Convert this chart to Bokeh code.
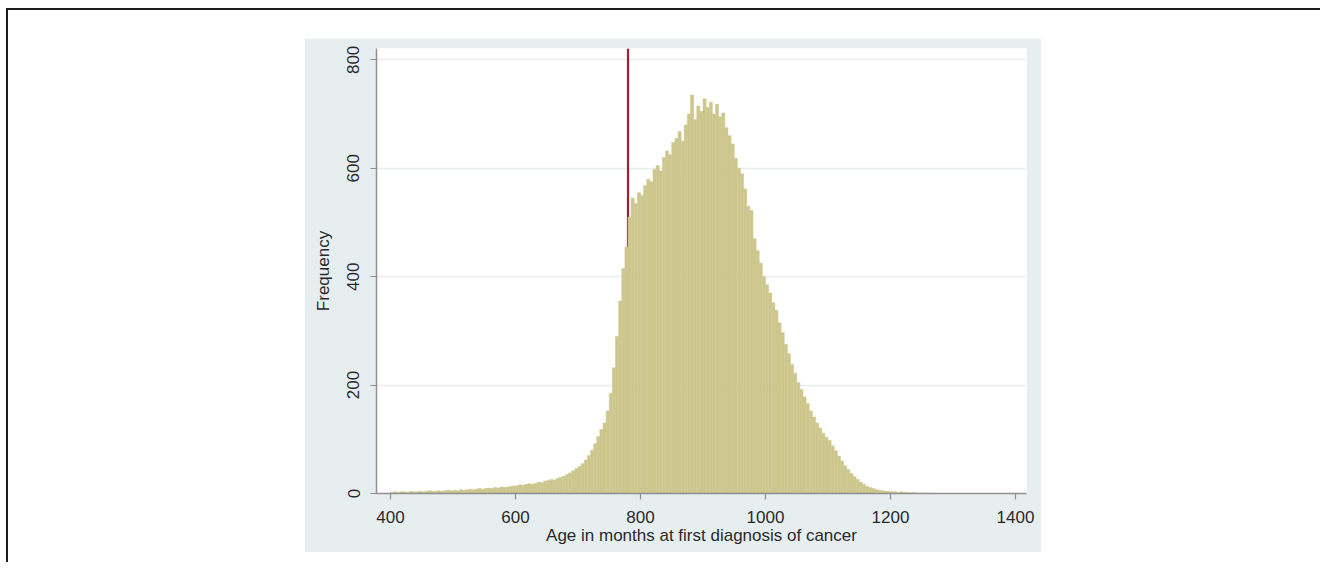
from bokeh.plotting import figure
from bokeh.models import Range1d, FixedTicker, ColumnDataSource, Spacer
from bokeh.layouts import column, row
from bokeh.embed import file_html
from bokeh.resources import INLINE

# ---- data ----
bin_start = 400          # months
bin_width = 5            # months
counts = [
    # 400-495
    2, 3, 2, 3, 3, 2, 4, 3, 3, 4, 3, 4, 5, 4, 4, 5, 4, 5, 6, 5,
    # 500-595
    6, 5, 7, 6, 7, 8, 7, 8, 9, 8, 9, 10, 9, 11, 10, 12, 11, 12, 13, 14,
    # 600-645
    14, 16, 15, 17, 18, 17, 19, 21, 20, 23,
    # 650-695
    24, 26, 25, 28, 30, 32, 35, 38, 42, 46,
    # 700-735
    50, 55, 62, 70, 80, 92, 105, 118,
    # 740-775
    130, 152, 185, 232, 290, 355, 415, 455,
    # 780-855
    510, 545, 535, 555, 550, 568, 580, 575, 598, 605, 595, 620, 632, 625, 648, 655,
    # 860-935
    668, 650, 680, 700, 735, 690, 715, 705, 728, 712, 722, 700, 718, 695, 702, 675,
    # 940-995
    660, 645, 618, 600, 590, 562, 530, 522, 470, 448, 425, 400,
    # 1000-1095
    385, 370, 352, 338, 315, 297, 275, 258, 238, 222, 205, 192, 178, 166, 152, 141, 130, 121, 111, 104,
    # 1100-1195
    98, 88, 79, 69, 60, 51, 44, 37, 31, 26, 21, 17, 13, 11, 9, 7, 6, 5, 4, 4,
    # 1200-1265
    3, 3, 2, 3, 2, 2, 1, 2, 1, 1, 1, 1, 0, 1,
]
cutoff_month = 780       # red reference line (65 years)
x_ticks = [400, 600, 800, 1000, 1200, 1400]
y_ticks = [0, 200, 400, 600, 800]
x_title = "Age in months at first diagnosis of cancer"
y_title = "Frequency"

left = [bin_start + i * bin_width for i in range(len(counts))]
right = [l + bin_width for l in left]
src = ColumnDataSource(dict(left=left, right=right, top=counts, bottom=[0] * len(counts)))

PANEL = "#e7eef0"
BAR = "#cdc78e"
FONT = "Liberation Sans"

p = figure(width=737, height=514, output_backend="svg", toolbar_location=None,
           x_range=Range1d(377.6, 1417.6), y_range=Range1d(0, 821),
           min_border_left=72, min_border_right=15, min_border_top=10, min_border_bottom=59,
           background_fill_color="white", border_fill_color=PANEL)
p.outline_line_color = None

# red reference line (behind bars)
p.segment(x0=[cutoff_month], y0=[0], x1=[cutoff_month], y1=[821],
          line_color="#a11d3a", line_width=2.2)

p.quad(left="left", right="right", top="top", bottom="bottom", source=src,
       fill_color=BAR, line_color=BAR, line_width=0.5)

# grid
p.xgrid.visible = False
p.ygrid.ticker = FixedTicker(ticks=y_ticks)
p.ygrid.grid_line_color = "#e6edef"
p.ygrid.grid_line_width = 1.6

for ax in (p.xaxis[0], p.yaxis[0]):
    ax.axis_line_color = "#8f8f8f"
    ax.axis_line_width = 1.5
    ax.major_tick_line_color = "#8f8f8f"
    ax.major_tick_line_width = 1.2
    ax.major_tick_in = 0
    ax.major_tick_out = 6
    ax.minor_tick_line_color = None
    ax.major_label_text_font = FONT
    ax.major_label_text_font_size = "17px"
    ax.major_label_text_color = "#2a2a2a"
    ax.axis_label_text_font = FONT
    ax.axis_label_text_font_size = "17px"
    ax.axis_label_text_font_style = "normal"
    ax.axis_label_text_color = "#2a2a2a"

p.xaxis.ticker = FixedTicker(ticks=x_ticks)
p.yaxis.ticker = FixedTicker(ticks=y_ticks)
p.xaxis.axis_label = x_title
p.yaxis.axis_label = y_title
p.xaxis.major_label_standoff = 11
p.xaxis.axis_label_standoff = 0
p.yaxis.major_label_orientation = "vertical"
p.yaxis.major_label_standoff = 11
p.yaxis.axis_label_standoff = 12

inner = column(Spacer(height=28, width=10),
               row(Spacer(width=296, height=514), p))
framed = column(inner, width=1400, height=600,
                styles={"border-left": "2px solid #1c1c1c", "border-top": "2px solid #1c1c1c",
                        "background-color": "white"})
body = column(Spacer(height=8, width=10), row(Spacer(width=6, height=600), framed))
page = column(body, width=1320, height=562, styles={"overflow": "hidden"})

open("out.html", "w").write(file_html(page, INLINE))
